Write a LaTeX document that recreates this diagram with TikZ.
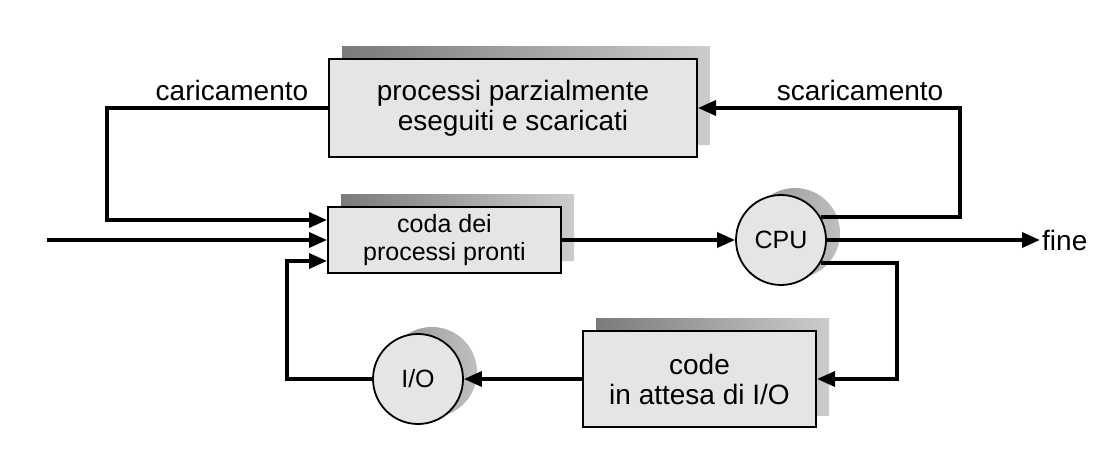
\documentclass[tikz,border=0pt]{standalone}
\usepackage{fontspec}
\setmainfont{Liberation Sans}
\usetikzlibrary{arrows.meta,shadows}

\begin{document}
\begin{tikzpicture}%
  [x=1pt,y=-1pt,>={Triangle[length=18pt,width=15pt]}]
  \tikzstyle{box node}=[rectangle,draw,line width=2pt,fill=black!10,align=center,
    font=\fontsize{28}{30}\selectfont,
    general shadow={shadow xshift=13pt,shadow yshift=12pt,left color=black!52,right color=black!20}]
  \tikzstyle{cir node}=[circle,draw,line width=1.8pt,fill=black!10,minimum size=90pt,inner sep=0,
    font=\fontsize{25}{28}\selectfont,
    general shadow={shadow xshift=14pt,shadow yshift=7pt,left color=black!42,right color=black!25}]
  \tikzstyle{label node}=[font=\fontsize{28}{30}\selectfont]
  \tikzstyle{flow}=[line width=3.4pt,->]
  \useasboundingbox (0,0) rectangle (1117,462);
  \node(top)[box node,minimum width=368pt,minimum height=98pt] at (513,108)
    {processi parzialmente\\eseguiti e scaricati};
  \node(coda)[box node,minimum width=233pt,minimum height=66pt,
    font=\fontsize{25}{28}\selectfont] at (444.5,240) {coda dei\\processi pronti};
  \node(code)[box node,minimum width=233pt,minimum height=96pt] at (699.5,379)
    {code\\in attesa di I/O};
  \node(cpu)[cir node] at (781,240) {CPU};
  \node(io)[cir node] at (418,379) {I/O};
  \node(car)[label node] at (232,90) {caricamento};
  \node(scar)[label node] at (860,90) {scaricamento};
  \node(fine)[label node,anchor=west,inner sep=2pt] at (1040,240) {fine};
  \coordinate(in) at (47,240);
  \coordinate(left) at (107,0);
  \coordinate(ret) at (287,0);
  \coordinate(right) at (960,0);
  \coordinate(wait) at (897,0);
  \draw[flow] (top.west) -- (top.west -| left) |- ([yshift=20pt]coda.west);
  \draw[flow] (in) -- (coda.west);
  \draw[flow] (io.west) -- (io.west -| ret) |- ([yshift=-21pt]coda.west);
  \draw[flow] (coda.east) -- (cpu.west);
  \draw[flow] (cpu.30) -- (cpu.30 -| right) |- (top.east);
  \draw[flow] (cpu.east) -- (fine.west);
  \draw[flow] (cpu.-30) -- (cpu.-30 -| wait) |- (code.east);
  \draw[flow] (code.west) -- (io.east);
\end{tikzpicture}
\end{document}
